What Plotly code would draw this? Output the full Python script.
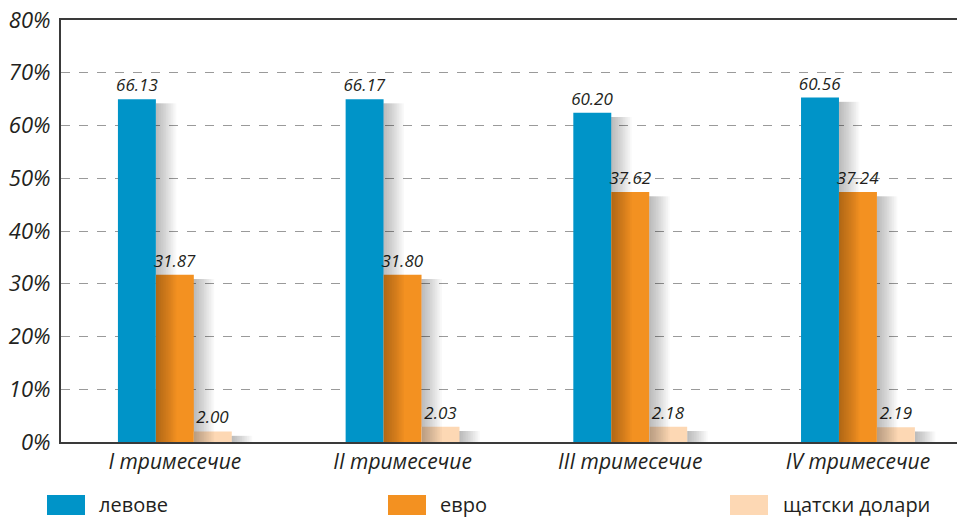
import plotly.graph_objects as go

# ---- data ----
categories = ["I тримесечие", "II тримесечие", "III тримесечие", "IV тримесечие"]
series_names = ["левове", "евро", "щатски долари"]
# bar heights as drawn in the picture (%)
bar_leva = [65.0, 65.0, 62.4, 65.3]
bar_euro = [31.7, 31.7, 47.4, 47.4]
bar_usd = [2.0, 2.9, 2.9, 2.8]
# value labels printed above the bars
lbl_leva = ["66.13", "66.17", "60.20", "60.56"]
lbl_euro = ["31.87", "31.80", "37.62", "37.24"]
lbl_usd = ["2.00", "2.03", "2.18", "2.19"]
y_ticks = [0, 10, 20, 30, 40, 50, 60, 70, 80]

colors = ["#0094C8", "#F39121", "#FDD8B4"]
FONT = "Open Sans, sans-serif"
TXT = "#231F20"

W, H = 957, 519
L, R, T, B = 61, 0, 20, 77
pw, ph = W - L - R, H - T - B

xs = list(range(len(categories)))
bw = 1 / 6.0
offsets = [-0.25, -0.25 + bw, -0.25 + 2 * bw]

fig = go.Figure()
for vals, lbls, col, off, name in zip([bar_leva, bar_euro, bar_usd],
                                     [lbl_leva, lbl_euro, lbl_usd],
                                     colors, offsets, series_names):
    fig.add_trace(go.Bar(
        x=xs, y=vals, name=name, marker=dict(color=col, line=dict(width=0)),
        width=bw, offset=off, text=lbls, textposition="outside",
        textfont=dict(family=FONT, size=17, color=TXT, style="italic"),
        constraintext="none", cliponaxis=False, showlegend=False,
        hoverinfo="skip"))

# soft shadows to the right of each bar (layered translucent strips)
for vals, off in zip([bar_leva, bar_euro, bar_usd], offsets):
    for k in range(1, 13):
        fig.add_trace(go.Bar(
            x=xs, y=[v - 0.8 for v in vals], base=[0.0] * len(vals),
            width=0.0075 * k, offset=off + bw,
            marker=dict(color="rgba(0,0,0,0.022)", line=dict(width=0)),
            showlegend=False, hoverinfo="skip"))

# x range chosen so that the plot area runs off the right edge like the picture
unit = 227.7
x_right = -0.5 + pw / unit

fig.update_layout(
    width=W, height=H, margin=dict(l=L, r=R, t=T, b=B, autoexpand=False),
    barmode="overlay", plot_bgcolor="white", paper_bgcolor="white",
    xaxis=dict(range=[-0.5, x_right], tickmode="array", tickvals=xs,
               ticktext=categories, showgrid=False, zeroline=False,
               showline=True, linecolor="#3A3A3A", linewidth=2, mirror=True,
               ticks="", tickfont=dict(family=FONT, size=21, color=TXT, style="italic")),
    yaxis=dict(range=[0, 80], tickmode="array", tickvals=y_ticks,
               ticktext=[f"{t}%" for t in y_ticks], showgrid=True,
               gridcolor="#9A9A9A", griddash="dash", gridwidth=1,
               zeroline=False, showline=True, linecolor="#3A3A3A", linewidth=2,
               ticks="", ticklabelstandoff=4,
               tickfont=dict(family=FONT, size=22, color=TXT, style="italic")),
)

# manual legend (large swatches at the bottom)
def px_x(p):
    return (p - L) / pw

def px_y(p):
    return (H - B - p) / ph

legend_items = [(47, 85, 97), (388, 426, 438), (730, 768, 781)]
for (x0, x1, tx), col, name in zip(legend_items, colors, series_names):
    fig.add_shape(type="rect", xref="paper", yref="paper",
                  x0=px_x(x0), x1=px_x(x1), y0=px_y(515), y1=px_y(495),
                  fillcolor=col, line=dict(width=0))
    fig.add_annotation(xref="paper", yref="paper", x=px_x(tx), y=px_y(505),
                       text=name, showarrow=False, xanchor="left", yanchor="middle",
                       font=dict(family=FONT, size=20, color=TXT))

fig.write_html("out.html")
